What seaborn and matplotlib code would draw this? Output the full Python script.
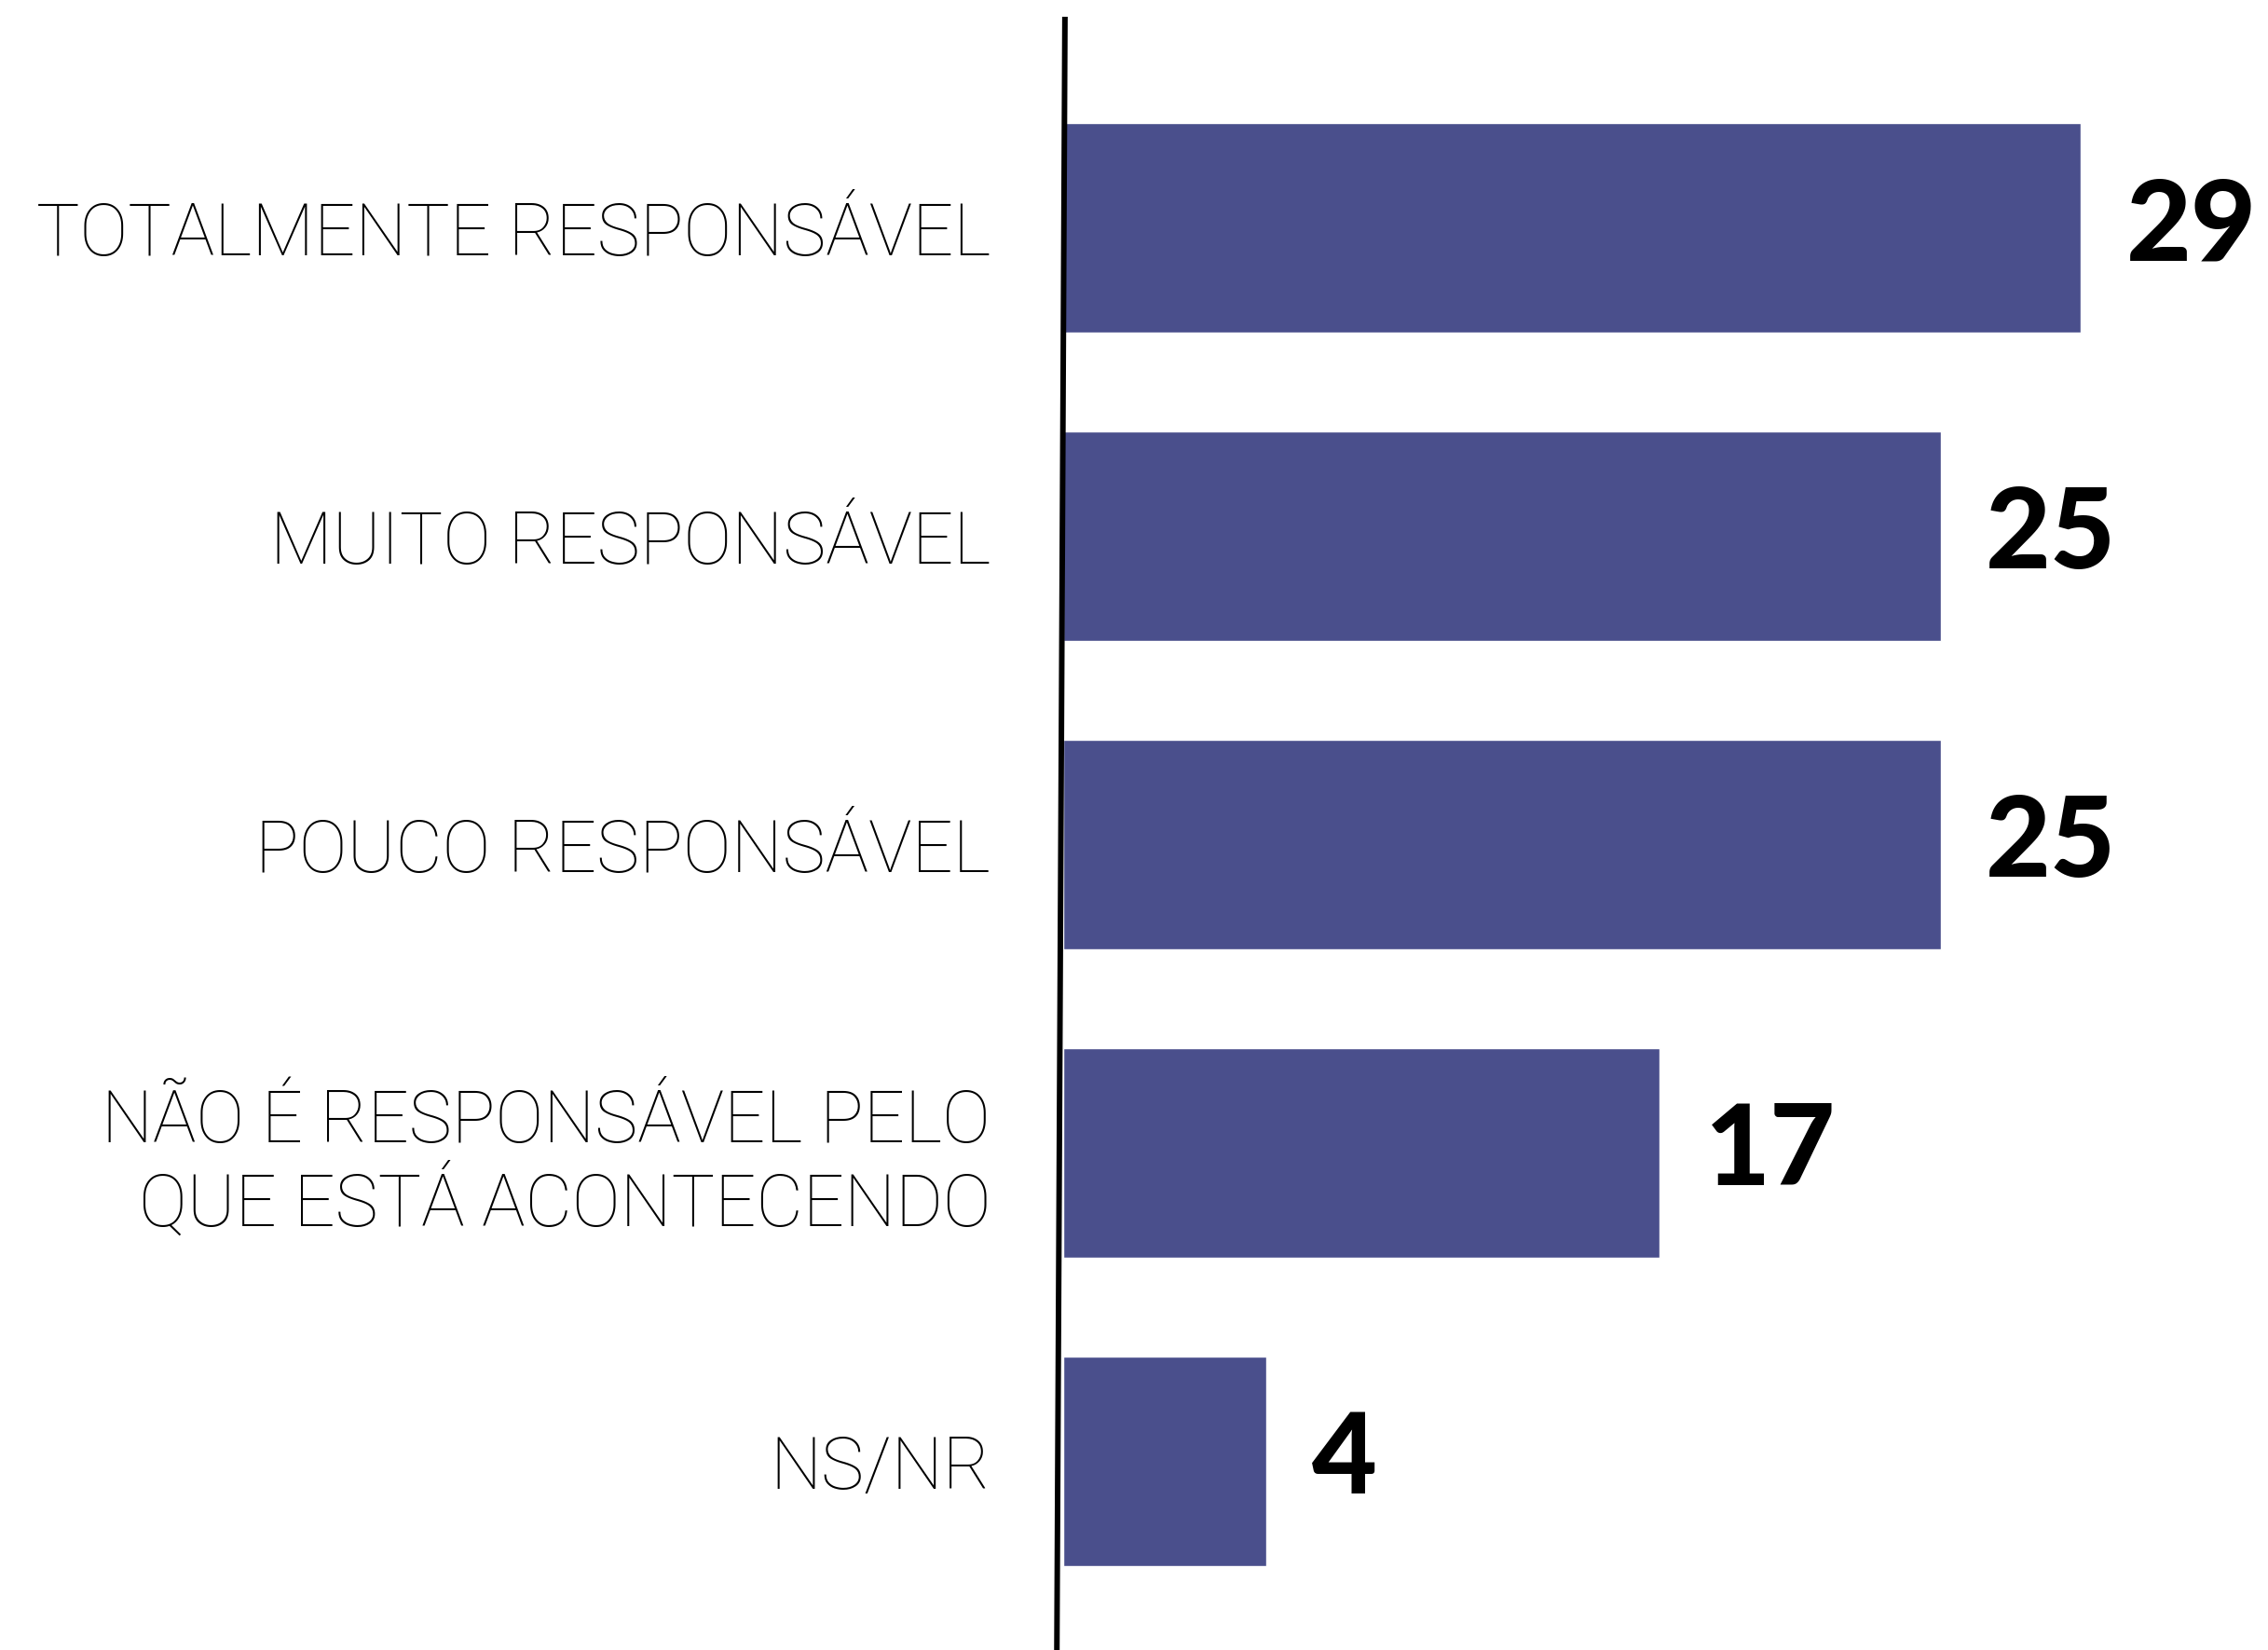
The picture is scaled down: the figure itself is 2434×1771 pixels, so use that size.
import matplotlib
matplotlib.use("Agg")
import matplotlib.pyplot as plt
import seaborn as sns
import pandas as pd

categories = [
    "TOTALMENTE RESPONSÁVEL",
    "MUITO RESPONSÁVEL",
    "POUCO RESPONSÁVEL",
    "NÃO É RESPONSÁVEL PELO\nQUE ESTÁ ACONTECENDO",
    "NS/NR",
]
bar_values = [29, 25, 25, 17, 5.8]
value_labels = ["29", "25", "25", "17", "4"]

BAR_COLOR = "#4a4f8c"

sns.set_theme(style="white")
plt.rcParams["font.family"] = ["Lato", "DejaVu Sans"]

W, H = 2434, 1771
fig = plt.figure(figsize=(W / 100, H / 100), dpi=100)
ax = fig.add_axes([1141 / W, 0, 1 - 1141 / W, 1 - 18 / H])

df = pd.DataFrame({"cat": categories, "val": bar_values})
sns.barplot(data=df, x="val", y="cat", orient="h", color=BAR_COLOR,
            saturation=1, width=0.68, ax=ax)

ax.set_xlim(0, (W - 1141) / 37.66)
ax.set_ylim(4.612, -0.684)
for s in ax.spines.values():
    s.set_visible(False)
ax.set_xlabel("")
ax.set_ylabel("")
ax.set_xticks([])
ax.tick_params(axis="y", length=0, pad=56)
ax.set_yticks(range(len(categories)))
ax.set_yticklabels(categories, fontsize=56, color="black", linespacing=1.13)
for t in ax.get_yticklabels():
    t.set_horizontalalignment("right")
    t.set_fontfamily(["Roboto", "DejaVu Sans"])
    t.set_fontweight("light")

# slightly slanted axis line
ax.plot([0.05, -0.18], [1, 0], transform=ax.get_xaxis_transform(),
        color="black", lw=4.3, clip_on=False, solid_capstyle="butt", zorder=5)

for i, (v, lab) in enumerate(zip(bar_values, value_labels)):
    ax.annotate(lab, xy=(v, i), xytext=(35, 0), textcoords="offset points",
                ha="left", va="center", fontsize=87, fontweight="black",
                color="black")

fig.savefig("out.png", dpi=100, facecolor="white")
